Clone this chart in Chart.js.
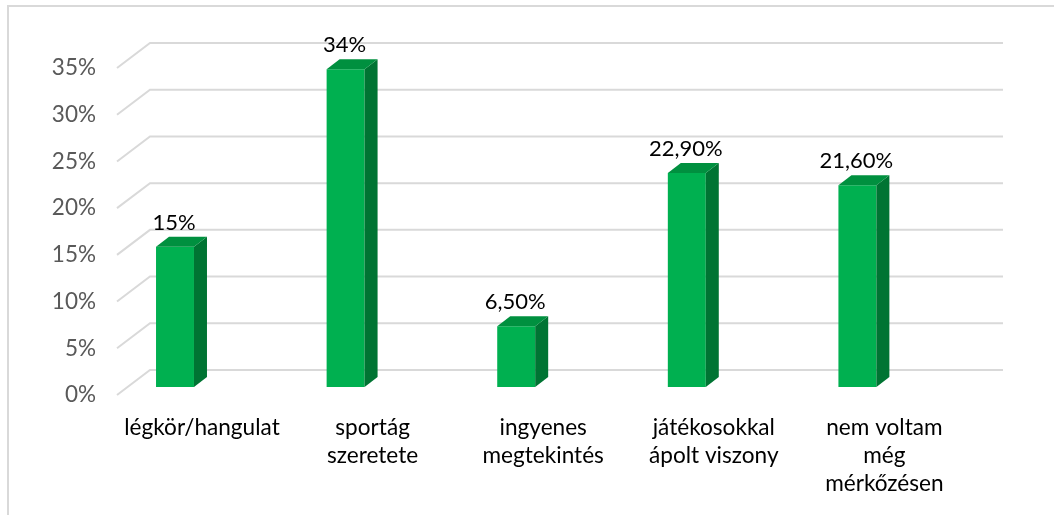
<!DOCTYPE html>
<html>
<head>
<meta charset="utf-8">
<script src="https://cdn.jsdelivr.net/npm/chart.js@4/dist/chart.umd.min.js"></script>
<style>
  html, body { margin: 0; padding: 0; background: #fff; }
  #wrap { position: relative; width: 1054px; height: 515px; }
  #frame { position: absolute; left: 7px; top: 5px; right: -10px; bottom: -10px;
           border-top: 2px solid #d9d9d9; border-left: 2px solid #d9d9d9; }
  canvas { position: absolute; left: 0; top: 0; }
</style>
</head>
<body>
<div id="wrap">
  <div id="frame"></div>
  <canvas id="chart" width="1054" height="515"></canvas>
</div>
<script>
const categories = [
  "légkör/hangulat",
  ["sportág", "szeretete"],
  ["ingyenes", "megtekintés"],
  ["játékosokkal", "ápolt viszony"],
  ["nem voltam", "még", "mérkőzésen"]
];
const values = [15, 34, 6.5, 22.9, 21.6];
const valueLabels = ["15%", "34%", "6,50%", "22,90%", "21,60%"];
const yTicks = [0, 5, 10, 15, 20, 25, 30, 35];

const FONT = "Lato";
const DEPTH_X = 13, DEPTH_Y = 10;   // bar depth
const WALL_X = 33, WALL_Y = 25;     // floor/wall depth

// perspective gridlines drawn from the y scale
const wallGrid = {
  id: "wallGrid",
  beforeDatasetsDraw(chart) {
    const { ctx, chartArea, scales: { y } } = chart;
    const x0 = chartArea.left, x1 = chartArea.right + WALL_X;
    ctx.save();
    ctx.strokeStyle = "#d9d9d9";
    ctx.lineWidth = 2;
    yTicks.forEach(v => {
      const yf = y.getPixelForValue(v) + 8;
      ctx.beginPath();
      ctx.moveTo(x0, yf);
      ctx.lineTo(x0 + WALL_X, yf - WALL_Y);
      ctx.lineTo(x1, yf - WALL_Y);
      ctx.stroke();
    });
    ctx.restore();
  }
};

// side + top faces and value labels
const bar3d = {
  id: "bar3d",
  afterDatasetsDraw(chart) {
    const { ctx } = chart;
    const meta = chart.getDatasetMeta(0);
    ctx.save();
    meta.data.forEach((bar, i) => {
      const { x, y, base, width } = bar.getProps(["x", "y", "base", "width"], true);
      const l = x - width / 2, r = x + width / 2;
      // side
      ctx.fillStyle = "#007433";
      ctx.beginPath();
      ctx.moveTo(r, y);
      ctx.lineTo(r + DEPTH_X, y - DEPTH_Y);
      ctx.lineTo(r + DEPTH_X, base - DEPTH_Y);
      ctx.lineTo(r, base);
      ctx.closePath();
      ctx.fill();
      // top
      ctx.fillStyle = "#00903f";
      ctx.beginPath();
      ctx.moveTo(l, y);
      ctx.lineTo(l + DEPTH_X, y - DEPTH_Y);
      ctx.lineTo(r + DEPTH_X, y - DEPTH_Y);
      ctx.lineTo(r, y);
      ctx.closePath();
      ctx.fill();
      // label
      ctx.fillStyle = "#000";
      ctx.font = "22px " + FONT;
      ctx.textAlign = "center";
      ctx.textBaseline = "alphabetic";
      ctx.fillText(valueLabels[i], x - 1, y - DEPTH_Y - 7);
    });
    ctx.restore();
  }
};

new Chart(document.getElementById("chart"), {
  type: "bar",
  data: {
    datasets: [{
      data: values.map((v, i) => ({ x: i, y: v })),
      backgroundColor: "#00b050",
      borderWidth: 0,
      barPercentage: 0.2225,
      categoryPercentage: 1
    }]
  },
  options: {
    responsive: false,
    animation: false,
    layout: { padding: { left: 0, right: 84, top: 60, bottom: 0 } },
    plugins: { legend: { display: false }, tooltip: { enabled: false } },
    scales: {
      x: {
        type: "linear",
        min: -0.34,
        max: 4.66,
        offset: false,
        grid: { display: false, drawTicks: false },
        border: { display: false },
        afterBuildTicks(scale) {
          scale.ticks = categories.map((c, i) => ({ value: i }));
        },
        ticks: {
          color: "#000",
          font: { family: FONT, size: 22.6, lineHeight: 1.24 },
          labelOffset: 27,
          padding: 27,
          maxRotation: 0,
          autoSkip: false,
          callback: (v, i) => categories[i]
        },
        afterFit(scale) { scale.height = 128; }
      },
      y: {
        min: 0,
        max: 35,
        grid: { display: false, drawTicks: false },
        border: { display: false },
        ticks: {
          stepSize: 5,
          color: "#595959",
          font: { family: FONT, size: 22.5 },
          labelOffset: 8,
          padding: 21,
          callback: v => v + "%"
        },
        afterFit(scale) { scale.width = 117; }
      }
    }
  },
  plugins: [wallGrid, bar3d]
});
</script>
</body>
</html>
